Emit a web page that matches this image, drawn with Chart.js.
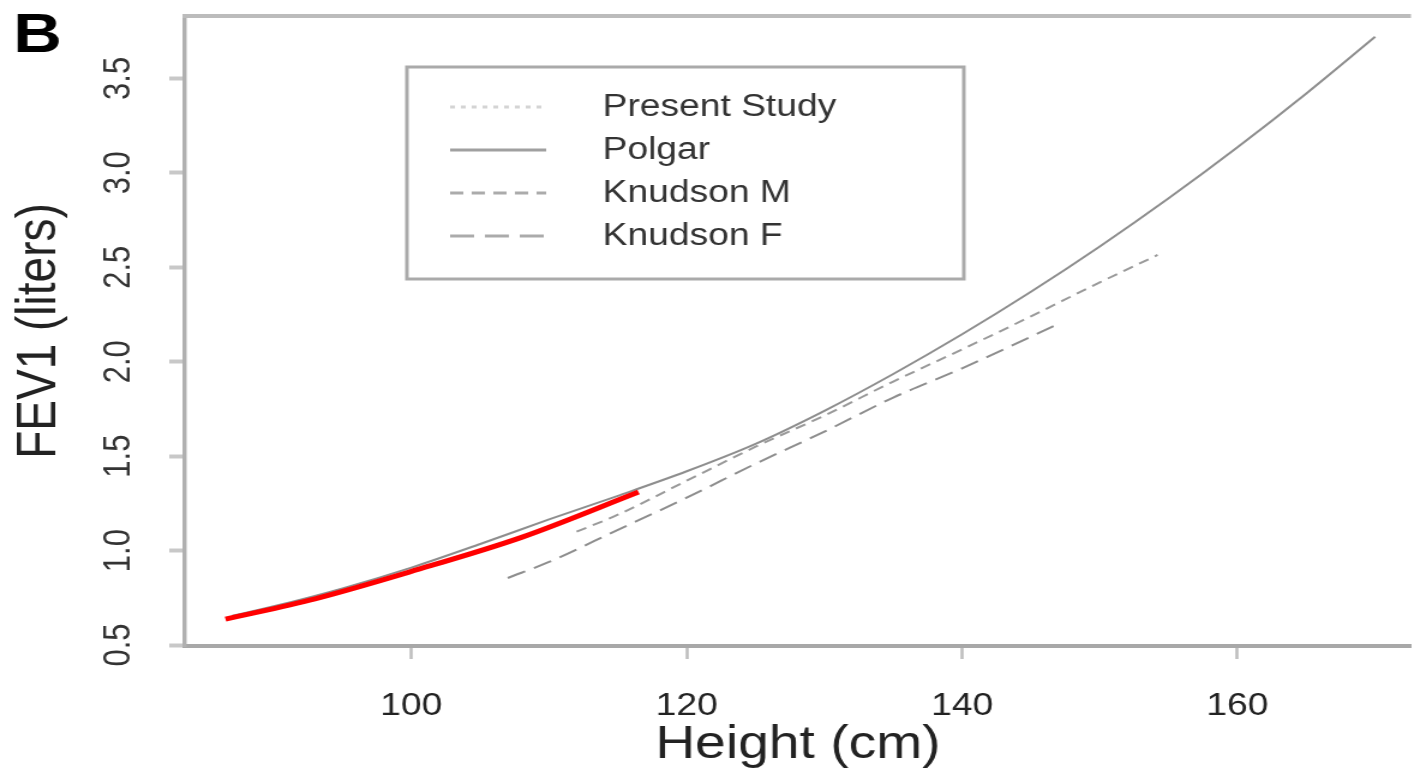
<!DOCTYPE html>
<html>
<head>
<meta charset="utf-8">
<title>FEV1 vs height</title>
<script src="https://cdn.jsdelivr.net/npm/chart.js@4.4.1/dist/chart.umd.min.js"></script>
<style>
  html, body { margin: 0; padding: 0; background: #fff; overflow: hidden; }
  /* the original figure is stretched sideways, so draw narrow and scale it */
  #wrap { width: 1178px; height: 773px; transform: scaleX(1.2003); transform-origin: 0 0; }
</style>
</head>
<body>
<div id="wrap"><canvas id="chart"></canvas></div>
<script>
const xTicks = [100, 120, 140, 160];
const yTicks = [0.5, 1.0, 1.5, 2.0, 2.5, 3.0, 3.5];

const presentHeight = [86.5, 93, 100, 108, 116.5];
const presentFev = [0.637, 0.745, 0.89, 1.07, 1.31];

const polgarHeight = [87, 90, 95, 100, 105, 110, 115, 120, 125, 130, 135, 140, 145, 150, 155, 160, 165, 170];
const polgarFev = [0.655, 0.705, 0.80, 0.91, 1.035, 1.165, 1.29, 1.42, 1.565, 1.74, 1.935, 2.145, 2.37, 2.61, 2.865, 3.135, 3.42, 3.72];

const knudsonMHeight = [112, 115, 120, 125, 130, 135, 140, 145, 150, 154.2];
const knudsonMFev = [1.10, 1.19, 1.37, 1.55, 1.715, 1.895, 2.065, 2.24, 2.42, 2.565];

const knudsonFHeight = [107, 110, 115, 120, 125, 130, 135, 140, 147];
const knudsonFFev = [0.855, 0.94, 1.11, 1.28, 1.46, 1.63, 1.81, 1.965, 2.20];

const family = '"Liberation Sans", Arial, Helvetica, sans-serif';
const pts = (xs, ys) => xs.map((x, i) => ({ x: x, y: ys[i] }));

// left/top box edges, rotated y labels, legend and panel letter
const extras = {
  id: 'extras',
  afterDraw(chart) {
    const { ctx, chartArea: a, scales } = chart;
    const y = scales.y;
    ctx.save();

    ctx.strokeStyle = '#bcbcbc';
    ctx.lineWidth = 4;
    ctx.beginPath();
    ctx.moveTo(a.left - 2, a.top);
    ctx.lineTo(a.right, a.top);
    ctx.stroke();

    ctx.fillStyle = '#333';
    ctx.font = '31px ' + family;
    ctx.textAlign = 'center';
    ctx.textBaseline = 'alphabetic';
    yTicks.forEach(v => {
      ctx.save();
      ctx.translate(108, y.getPixelForValue(v));
      ctx.rotate(-Math.PI / 2);
      ctx.fillText(v.toFixed(1), 0, 0);
      ctx.restore();
    });

    // legend
    ctx.fillStyle = '#fff';
    ctx.fillRect(339, 67, 464, 212);
    ctx.strokeStyle = '#aaa';
    ctx.lineWidth = 3;
    ctx.strokeRect(339, 67, 464, 212);
    ctx.textAlign = 'left';
    ctx.font = '31px ' + family;
    chart.data.datasets.forEach((ds, i) => {
      const base = 116 + i * 43;
      ctx.strokeStyle = ds.legendColor;
      ctx.lineWidth = 3;
      ctx.setLineDash(ds.legendDash);
      ctx.beginPath();
      ctx.moveTo(375, base - 9);
      ctx.lineTo(455, base - 9);
      ctx.stroke();
      ctx.setLineDash([]);
      ctx.fillStyle = '#333';
      ctx.fillText(ds.label, 502, base);
    });

    ctx.fillStyle = '#000';
    ctx.font = 'bold 56px ' + family;
    ctx.fillText('B', 11, 52);
    ctx.restore();
  }
};

new Chart(document.getElementById('chart'), {
  type: 'scatter',
  data: {
    datasets: [
      { label: 'Present Study', data: pts(presentHeight, presentFev), borderColor: '#ff0000', borderWidth: 5,
        legendColor: '#d4d4d4', legendDash: [4, 5] },
      { label: 'Polgar', data: pts(polgarHeight, polgarFev), borderColor: '#8e8e8e', borderWidth: 2,
        legendColor: '#a0a0a0', legendDash: [] },
      { label: 'Knudson M', data: pts(knudsonMHeight, knudsonMFev), borderColor: '#9a9a9a', borderWidth: 2,
        borderDash: [9, 6], legendColor: '#ababab', legendDash: [11, 7] },
      { label: 'Knudson F', data: pts(knudsonFHeight, knudsonFFev), borderColor: '#8e8e8e', borderWidth: 2,
        borderDash: [16, 8], legendColor: '#ababab', legendDash: [20, 9] }
    ].map(ds => Object.assign(ds, { showLine: true, pointRadius: 0, cubicInterpolationMode: 'monotone', fill: false }))
  },
  options: {
    responsive: true,
    maintainAspectRatio: false,
    animation: false,
    devicePixelRatio: 1,
    layout: { padding: { top: 16, left: 0, right: 0, bottom: 0 } },
    plugins: { legend: { display: false }, tooltip: { enabled: false } },
    scales: {
      x: {
        type: 'linear',
        min: 83.55,
        max: 172.6,
        afterBuildTicks: s => { s.ticks = xTicks.map(v => ({ value: v })); },
        afterFit: s => { s.height = 127; },
        border: { color: '#a8a8a8', width: 4 },
        grid: { drawOnChartArea: false, tickLength: 13, tickColor: '#bdbdbd', tickWidth: 2.5 },
        ticks: { color: '#222', font: { size: 31, family: family }, padding: 29, maxRotation: 0 },
        title: { display: true, text: 'Height (cm)', color: '#222', font: { size: 46, family: family }, padding: { top: 0, bottom: 0 } }
      },
      y: {
        type: 'linear',
        min: 0.495,
        max: 3.83,
        afterBuildTicks: s => { s.ticks = yTicks.map(v => ({ value: v })); },
        afterFit: s => { s.width = 154; },
        border: { color: '#b0b0b0', width: 3.5 },
        grid: { drawOnChartArea: false, tickLength: 13, tickColor: '#c8c8c8', tickWidth: 4 },
        ticks: { display: false },
        title: { display: true, text: 'FEV1 (liters)', color: '#222', font: { size: 46, family: family }, padding: { top: 6, bottom: 0 } }
      }
    }
  },
  plugins: [extras]
});
</script>
</body>
</html>
